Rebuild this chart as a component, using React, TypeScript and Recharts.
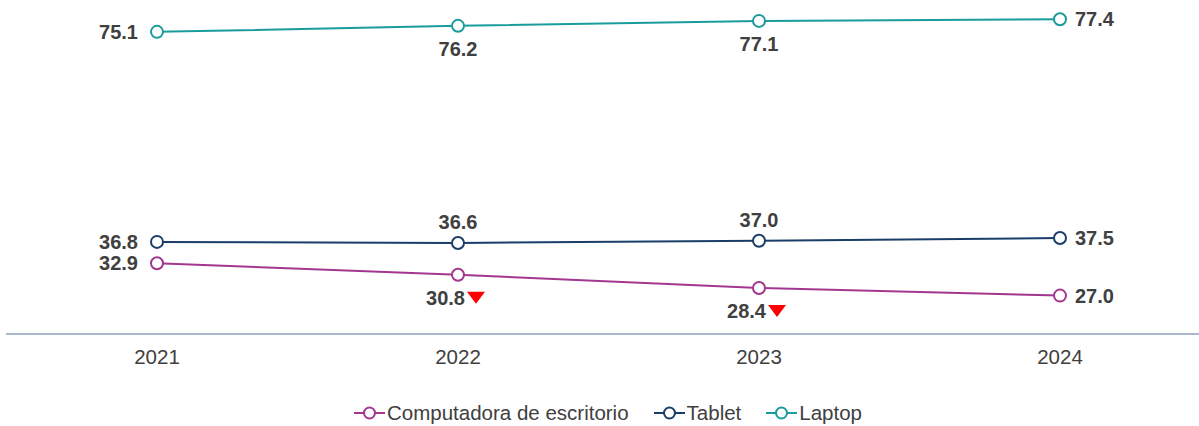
import { Legend, Line, LineChart, XAxis, YAxis } from "recharts";

const years = ["2021", "2022", "2023", "2024"];
const desktop = [32.9, 30.8, 28.4, 27.0];
const tablet = [36.8, 36.6, 37.0, 37.5];
const laptop = [75.1, 76.2, 77.1, 77.4];
const desktopDrops = [false, true, true, false];

const data = years.map((year, i) => ({
  year,
  desktop: desktop[i],
  tablet: tablet[i],
  laptop: laptop[i],
}));

const FONT = '"Liberation Sans", Arial, sans-serif';
const TEXT = "#404040";

const series = [
  { key: "desktop", name: "Computadora de escritorio", color: "#A3378F", mid: "bottom" },
  { key: "tablet", name: "Tablet", color: "#1B3E68", mid: "top" },
  { key: "laptop", name: "Laptop", color: "#1A9C9C", mid: "bottom" },
];

function makeLabel(mid: string, drops?: boolean[]) {
  return (props: any) => {
    const { x, y, value, index } = props;
    const txt = Number(value).toFixed(1);
    const common = { fontFamily: FONT, fontSize: 20, fontWeight: 700, fill: TEXT, dominantBaseline: "central" as const };
    if (index === 0) {
      return <text x={x - 19} y={y} textAnchor="end" {...common}>{txt}</text>;
    }
    if (index === years.length - 1) {
      return <text x={x + 15} y={y} textAnchor="start" {...common}>{txt}</text>;
    }
    const ly = mid === "top" ? y - 21 : y + 23;
    if (drops && drops[index]) {
      return (
        <g>
          <text x={x + 7} y={ly} textAnchor="end" {...common}>{txt}</text>
          <polygon points={`${x + 9},${ly - 6} ${x + 27},${ly - 6} ${x + 18},${ly + 6}`} fill="#FF0000" />
        </g>
      );
    }
    return <text x={x} y={ly} textAnchor="middle" {...common}>{txt}</text>;
  };
}

function LegendContent() {
  return (
    <div
      style={{
        display: "flex",
        justifyContent: "center",
        gap: 25,
        paddingTop: 17,
        paddingLeft: 11,
        fontFamily: FONT,
        fontSize: 20.5,
        lineHeight: "20px",
        color: TEXT,
      }}
    >
      {series.map((s) => (
        <span key={s.key} style={{ display: "flex", alignItems: "center" }}>
          <svg width={31} height={16} style={{ marginRight: 2 }}>
            <line x1={0} y1={8} x2={31} y2={8} stroke={s.color} strokeWidth={2} />
            <circle cx={15.5} cy={8} r={5.5} fill="#fff" stroke={s.color} strokeWidth={2} />
          </svg>
          {s.name}
        </span>
      ))}
    </div>
  );
}

export default function App() {
  return (
    <div style={{ position: "absolute", left: 0, top: 0, width: 1199, height: 426, background: "#fff" }}>
      <LineChart width={1199} height={426} data={data} margin={{ top: 5, right: 0, bottom: 0, left: 6 }}>
        <XAxis
          dataKey="year"
          height={52}
          padding={{ left: 151, right: 139 }}
          axisLine={{ stroke: "#8EA2B7", strokeWidth: 1.5 }}
          tickLine={false}
          tickMargin={9}
          tick={{ fill: TEXT, fontSize: 20.5, fontFamily: FONT }}
        />
        <YAxis hide domain={[20, 80]} />
        <Legend verticalAlign="bottom" height={40} content={<LegendContent />} />
        {series.map((s) => (
          <Line
            key={s.key}
            dataKey={s.key}
            name={s.name}
            stroke={s.color}
            strokeWidth={2}
            dot={{ r: 6, fill: "#fff", stroke: s.color, strokeWidth: 2 }}
            activeDot={false}
            isAnimationActive={false}
            label={makeLabel(s.mid, s.key === "desktop" ? desktopDrops : undefined)}
          />
        ))}
      </LineChart>
    </div>
  );
}
